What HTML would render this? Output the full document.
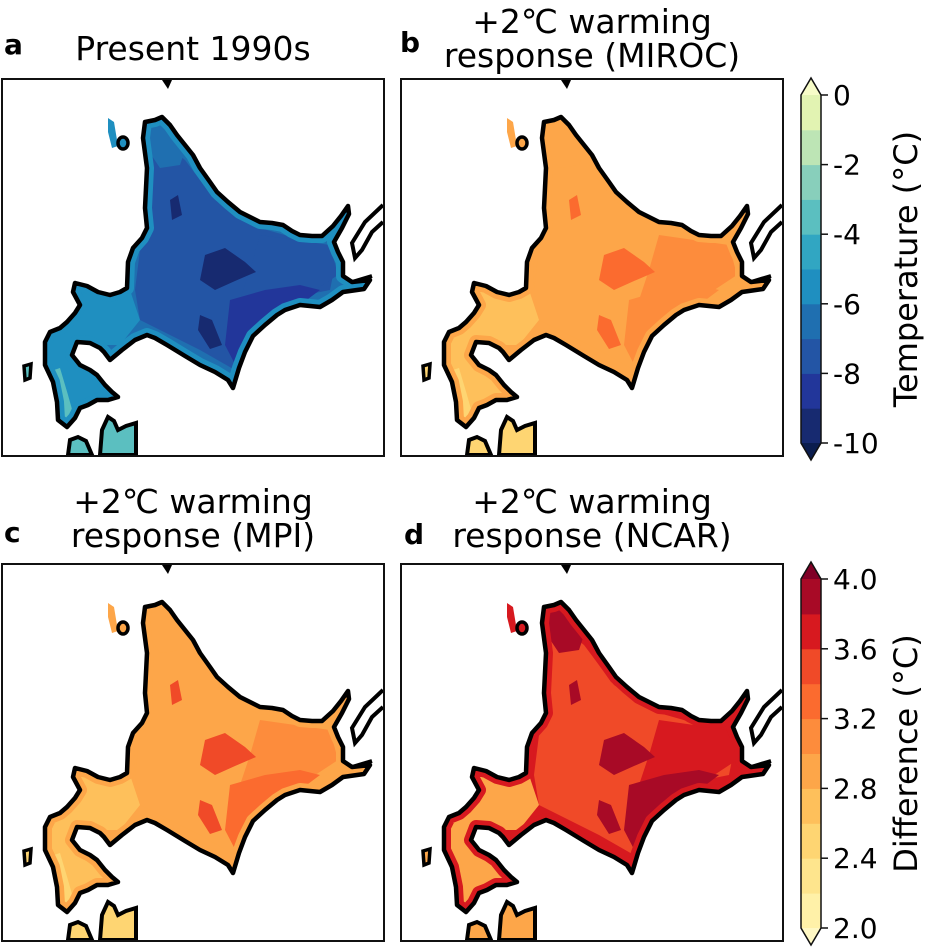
<!DOCTYPE html>
<html><head><meta charset="utf-8">
<style>
html,body{margin:0;padding:0;background:#fff;}
svg{display:block;font-family:"DejaVu Sans","Liberation Sans",sans-serif;}
.t{position:absolute;left:0;width:382px;text-align:center;font-size:33px;line-height:34px;white-space:nowrap;}
.l{position:absolute;font-size:28px;font-weight:bold;line-height:30px;}
</style></head>
<body>
<svg id="fig" width="926" height="948" viewBox="0 0 926 948" xmlns="http://www.w3.org/2000/svg">
  <defs>
    <clipPath id="islandClip"><path id="islandClipPath" d=""/></clipPath>
  </defs>
  <g id="panels"></g>
  <g id="cbars"></g>
</svg>
<script>
// ---- data ----
const tempTicks = [0, -2, -4, -6, -8, -10];
const tempLevels = [-10,-9,-8,-7,-6,-5,-4,-3,-2,-1,0];
const tempColors = ['#172a70','#22369a','#2355a5','#1f6fb0','#1f8fc0','#31a6c2','#5bbfc0','#88cfbb','#bde5b5','#e2f3b2'];
const diffTicks = [4.0, 3.6, 3.2, 2.8, 2.4, 2.0];
const diffLevels = [2.0,2.2,2.4,2.6,2.8,3.0,3.2,3.4,3.6,3.8,4.0];
const diffColors = ['#fff1a8','#fee58d','#fed572','#fec05b','#fda649','#fd8c3c','#fb6b2f','#f04a28','#d7191f','#a80a26'];
// region values per panel: [base, ring, interior, east, southeastCore, darkPatch, swPeninsula, swTip, northTip]
const valuesA = [-6.5, -5.5, -7.5, -7.5, -8.5, -9.5, -5.5, -3.5, -6.5];
const valuesB = [2.9, 2.9, 2.85, 3.05, 3.1, 3.3, 2.7, 2.55, 2.9];
const valuesC = [2.9, 2.85, 2.9, 3.0, 3.3, 3.45, 2.7, 2.55, 2.9];
const valuesD = [3.65, 3.7, 3.5, 3.75, 3.9, 3.95, 2.9, 2.85, 3.9];

// ---- geometry (panel-a image coordinates) ----
const ISLAND = "M162,117 L170,125 L177,135 L185,145 L193,155 L200,168 L210,182 L217,192 L228,202 L240,212 L252,218 L260,222 L272,223 L283,225 L292,231 L300,235 L312,236 L322,236 L333,226 L341,216 L348,206 L349,214 L342,228 L334,242 L338,252 L343,262 L343,276 L352,282 L370,280 L364,289 L350,291 L343,292 L332,300 L320,307 L300,305 L285,310 L277,315 L265,325 L253,336 L245,352 L239,368 L233,388 L228,380 L215,372 L200,365 L185,356 L167,345 L155,338 L147,335 L135,340 L122,350 L110,360 L104,352 L100,348 L90,343 L77,342 L72,355 L80,365 L90,370 L97,375 L105,385 L112,392 L118,397 L108,400 L97,400 L88,405 L80,408 L75,418 L67,427 L58,420 L57,402 L53,382 L45,365 L45,342 L50,332 L60,328 L67,322 L75,313 L80,305 L73,292 L75,283 L87,286 L98,292 L110,295 L120,292 L127,288 L128,262 L133,248 L142,238 L147,228 L145,208 L147,168 L143,138 L145,122 L155,120 Z";
const SHAPES = {
  interior: "M160,140 L185,160 L215,200 L260,228 L320,245 L335,265 L330,290 L280,300 L250,330 L235,370 L200,350 L160,330 L140,320 L135,290 L140,250 L150,200 L152,150 Z",
  east: "M260,235 L330,245 L338,275 L300,300 L255,320 L240,300 L250,270 Z",
  seCore: "M230,300 L265,290 L300,285 L320,290 L300,305 L270,320 L250,345 L238,370 L225,345 Z",
  dark: "M205,255 L225,248 L245,262 L256,272 L235,281 L215,290 L200,280 Z M200,315 L212,320 L222,345 L210,349 L198,330 Z M170,200 L178,195 L182,215 L172,220 Z",
  sw: "M45,330 L80,305 L75,283 L110,295 L130,290 L140,320 L120,345 L100,345 L75,342 L70,360 L100,385 L115,397 L70,428 L50,380 Z",
  swTip: "M48,372 L60,368 L68,395 L75,420 L62,428 L52,395 Z",
  north: "M150,120 L168,122 L185,150 L180,165 L160,168 L148,150 Z"
};
const PANELS = [
  {id:'a', dx:0, dy:0, vals:valuesA, scale:'temp'},
  {id:'b', dx:399, dy:0, vals:valuesB, scale:'diff'},
  {id:'c', dx:0, dy:485, vals:valuesC, scale:'diff'},
  {id:'d', dx:399, dy:485, vals:valuesD, scale:'diff'}
];

function colorFor(v, scale){
  const lv = scale==='temp'?tempLevels:diffLevels;
  const cs = scale==='temp'?tempColors:diffColors;
  for(let i=0;i<cs.length;i++){ if(v>=lv[i] && v<lv[i+1]) return cs[i]; }
  return v<lv[0]?cs[0]:cs[cs.length-1];
}
const NS='http://www.w3.org/2000/svg';
function mk(tag, attrs, parent){
  const e=document.createElementNS(NS,tag);
  for(const k in attrs) e.setAttribute(k, attrs[k]);
  if(parent) parent.appendChild(e);
  return e;
}
document.getElementById('islandClipPath').setAttribute('d', ISLAND);
const panelsG = document.getElementById('panels');
PANELS.forEach(p=>{
  const g = mk('g',{transform:`translate(${p.dx},${p.dy})`},panelsG);
  
  
  const c = k=>colorFor(p.vals[k], p.scale);
  const reb = mk('path',{d:"M108,118 L114,122 L118,146 L112,148 L108,132 Z", fill:c(1)},g);
  
  
  const fillG = mk('g',{'clip-path':'url(#islandClip)'},g);
  const base = mk('path',{d:ISLAND, fill:c(0)},fillG);
  
  
  mk('path',{d:SHAPES.interior, fill:c(2)},fillG);
  mk('path',{d:SHAPES.east, fill:c(3)},fillG);
  mk('path',{d:SHAPES.seCore, fill:c(4)},fillG);
  mk('path',{d:SHAPES.dark, fill:c(5)},fillG);
  mk('path',{d:SHAPES.north, fill:c(8)},fillG);
  mk('path',{d:SHAPES.sw, fill:c(6)},fillG);
  mk('path',{d:SHAPES.swTip, fill:c(7)},fillG);
  mk('path',{d:ISLAND, fill:'none', stroke:c(1), 'stroke-width':14, 'stroke-linejoin':'round'},fillG);
  const coast = mk('path',{d:ISLAND, fill:'none', stroke:'#000', 'stroke-width':4.5, 'stroke-linejoin':'round'},g);
  
  
  mk('ellipse',{cx:123,cy:143,rx:5,ry:6,fill:c(1),stroke:'#000','stroke-width':3.5},g);
  mk('path',{d:"M24,366 L31,364 L30,378 L25,380 Z",fill:c(7),stroke:'#000','stroke-width':3.5},g);
  mk('path',{d:"M383,205 L365,222 L352,243 L355,258 L362,250 L372,232 L383,222",fill:'none',stroke:'#000','stroke-width':4},g);
  mk('path',{d:"M352,282 L372,276",fill:'none',stroke:'#000','stroke-width':4},g);
  mk('path',{d:"M100,455 L102,430 L108,417 L114,421 L118,430 L126,426 L136,423 L136,455 Z",fill:c(7),stroke:'#000','stroke-width':4},g);
  mk('path',{d:"M68,455 L70,440 L78,437 L86,441 L92,455 Z",fill:c(7),stroke:'#000','stroke-width':4},g);
  mk('path',{d:"M162,80 L172,80 L168,89 Z",fill:'#000'},g);
  const fr = mk('rect',{x:2,y:79,width:382,height:377,fill:'none',stroke:'#111','stroke-width':2},g);
  
  
});

// ---- colorbars ----
function colorbar(y0, y1, levels, colors, ticks, under, over, label, name, fmt){
  const g = mk('g',{},document.getElementById('cbars'));
  
  
  const x0=801, x1=821;
  const lo=levels[0], hi=levels[levels.length-1];
  const yOf = v => y1 - (v-lo)/(hi-lo)*(y1-y0);
  for(let i=0;i<colors.length;i++){
    mk('rect',{x:x0,y:yOf(levels[i+1]),width:x1-x0,height:yOf(levels[i])-yOf(levels[i+1])+0.5,fill:colors[i]},g);
  }
  mk('path',{d:`M${x0},${y0} L${(x0+x1)/2},${y0-17} L${x1},${y0} Z`,fill:over},g);
  mk('path',{d:`M${x0},${y1} L${(x0+x1)/2},${y1+17} L${x1},${y1} Z`,fill:under},g);
  mk('path',{d:`M${x0},${y0} L${(x0+x1)/2},${y0-17} L${x1},${y0} L${x1},${y1} L${(x0+x1)/2},${y1+17} L${x0},${y1} Z`,fill:'none',stroke:'#111','stroke-width':1.5},g);
  ticks.forEach(t=>{
    const y=yOf(t);
    mk('line',{x1:x1,x2:x1+7,y1:y,y2:y,stroke:'#111','stroke-width':1.5},g);
    const tx = mk('text',{x:x1+12,y:y+10,'font-size':28,fill:'#000'},g);
    
    
    tx.textContent = fmt(t);
  });
  const cy=(y0+y1)/2;
  const lt = mk('text',{x:0,y:0,'font-size':32,fill:'#000','text-anchor':'middle',transform:`translate(917,${cy}) rotate(-90)`},g);
  
  
  lt.textContent = label;
}
colorbar(95, 443, tempLevels, tempColors, tempTicks, '#0b1d4e', '#f7fcc8', 'Temperature (°C)', 'temperature-colorbar', t=>String(t));
colorbar(579, 928, diffLevels, diffColors, diffTicks, '#fff8c4', '#800026', 'Difference (°C)', 'difference-colorbar', t=>t.toFixed(1));
</script>

<div style="position:absolute;left:0;top:0;width:926px;height:948px;pointer-events:none;font-family:'DejaVu Sans','Liberation Sans',sans-serif;color:#000;">
  <div class="l" style="left:4px;top:30px;">a</div>
  <div class="t" style="left:2px;top:32px;">Present 1990s</div>
  <div class="l" style="left:400px;top:28px;">b</div>
  <div class="t" style="left:401px;top:5px;">+2℃ warming<br>response (MIROC)</div>
  <div class="l" style="left:4px;top:518px;">c</div>
  <div class="t" style="left:2px;top:485px;">+2℃ warming<br>response (MPI)</div>
  <div class="l" style="left:404px;top:520px;">d</div>
  <div class="t" style="left:401px;top:485px;">+2℃ warming<br>response (NCAR)</div>
</div>
</body></html>
